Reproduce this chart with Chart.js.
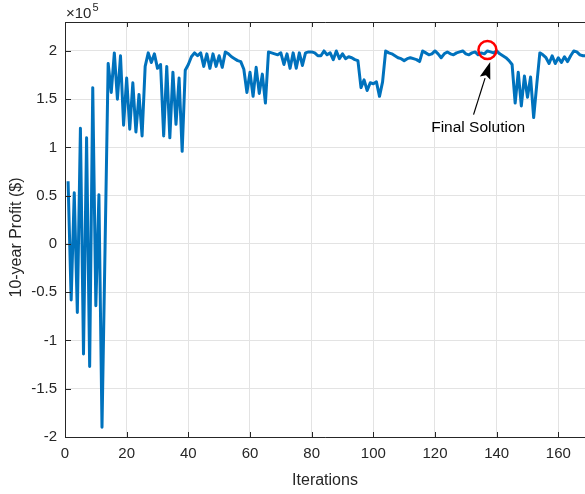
<!DOCTYPE html>
<html><head><meta charset="utf-8">
<script src="https://cdn.jsdelivr.net/npm/chart.js@4/dist/chart.umd.min.js"></script>
<style>html,body{margin:0;padding:0;background:#fff;overflow:hidden}canvas{display:block}</style>
</head><body>
<canvas id="c" width="585" height="494"></canvas>
<script>
// 10-year profit ($) per iteration (iteration = index + 1)
const profit = [
  65000,-58000,53000,-71000,120000,-114000,110000,-127000,162000,-64000,
  51000,-190000,-2000,187000,157000,198000,150000,195000,123000,172000,
  119000,167000,116000,155000,112000,184000,198000,188000,197000,182000,
  186000,112000,184000,110000,178000,124000,172000,96000,180000,186000,
  194000,198000,195000,198000,184000,197000,182000,197000,184000,195000,
  183000,199000,197000,194000,192000,190000,189000,181000,157000,178000,
  153000,183000,156000,176000,146000,199000,198000,197000,196000,198000,
  186000,197000,182000,198000,182000,198000,185000,198000,199000,199000,
  198000,195000,195000,200000,196000,198000,191000,200000,192000,197000,
  192000,194000,193000,191000,190000,162000,170000,159000,167000,166000,
  168000,153000,168000,200000,198000,197000,195000,193000,192000,190000,
  192000,193000,192000,191000,189000,200000,198000,196000,197000,200000,
  197000,193000,197000,199000,197000,196000,198000,199000,200000,197000,
  196000,198000,199000,196000,198000,197000,200000,199000,198000,200000,
  197000,195000,193000,190000,186000,146000,178000,143000,174000,152000,
  173000,131000,165000,198000,196000,193000,187000,195000,187000,193000,
  188000,194000,189000,195000,200000,199000,196000,195000,195000
];
const iterations = profit.map((_, i) => i + 1);
const xTicks = [0, 20, 40, 60, 80, 100, 120, 140, 160];
const yTicks = [-200000, -150000, -100000, -50000, 0, 50000, 100000, 150000, 200000];
const xTitle = 'Iterations';
const yTitle = '10-year Profit ($)';
// annotation anchor points in data coordinates
const solutionPoint = { x: 137, y: 201000 };
const arrowTip = { x: 137.9, y: 188600 };
const arrowTail = { x: 132.5, y: 134000 };
const labelPoint = { x: 134, y: 120700 };
const labelText = 'Final Solution';

const FONT = '"Liberation Sans", Arial, Helvetica, sans-serif';
const TXT = '#262626';

const matlabAxes = {
  id: 'matlabAxes',
  afterDatasetsDraw(chart) {
    const { ctx, chartArea: a, scales: { x, y } } = chart;
    ctx.save();
    ctx.strokeStyle = TXT;
    ctx.lineWidth = 1;
    ctx.beginPath();
    ctx.moveTo(a.left + 0.5, a.top + 0.5); ctx.lineTo(a.left + 0.5, a.bottom + 0.5);
    ctx.lineTo(a.right + 1, a.bottom + 0.5);
    ctx.moveTo(a.left + 0.5, a.top + 0.5); ctx.lineTo(a.right + 1, a.top + 0.5);
    xTicks.forEach(v => {
      const px = Math.round(x.getPixelForValue(v)) + 0.5;
      ctx.moveTo(px, a.bottom); ctx.lineTo(px, a.bottom - 5);
      ctx.moveTo(px, a.top); ctx.lineTo(px, a.top + 5);
    });
    yTicks.forEach(v => {
      const py = Math.round(y.getPixelForValue(v)) + 0.5;
      ctx.moveTo(a.left, py); ctx.lineTo(a.left + 6, py);
    });
    ctx.stroke();

    // exponent label
    ctx.fillStyle = TXT;
    ctx.textBaseline = 'alphabetic';
    ctx.textAlign = 'left';
    ctx.font = '15px ' + FONT;
    ctx.fillText('\u00d710', a.left + 1, a.top - 4);
    const w = ctx.measureText('\u00d710').width;
    ctx.font = '11px ' + FONT;
    ctx.fillText('5', a.left + 1 + w + 1, a.top - 11);

    // y axis title
    ctx.save();
    ctx.font = '16px ' + FONT;
    ctx.fillStyle = TXT;
    ctx.textAlign = 'center';
    ctx.textBaseline = 'middle';
    ctx.translate(17, (a.top + a.bottom) / 2 + 8);
    ctx.rotate(-Math.PI / 2);
    ctx.fillText(yTitle, 0, 0);
    ctx.restore();

    // annotation: circle
    const cx = x.getPixelForValue(solutionPoint.x), cy = y.getPixelForValue(solutionPoint.y);
    ctx.strokeStyle = '#ff0000';
    ctx.lineWidth = 2.5;
    ctx.beginPath();
    ctx.arc(cx, cy, 9, 0, Math.PI * 2);
    ctx.stroke();

    // arrow
    const tx = x.getPixelForValue(arrowTip.x), ty = y.getPixelForValue(arrowTip.y);
    const sx = x.getPixelForValue(arrowTail.x), sy = y.getPixelForValue(arrowTail.y);
    const ang = Math.atan2(ty - sy, tx - sx);
    const hl = 17, hw = 5.5;
    const bx = tx - hl * Math.cos(ang), by = ty - hl * Math.sin(ang);
    ctx.strokeStyle = '#000';
    ctx.fillStyle = '#000';
    ctx.lineWidth = 1.2;
    ctx.beginPath();
    ctx.moveTo(sx, sy); ctx.lineTo(bx, by);
    ctx.stroke();
    ctx.beginPath();
    ctx.moveTo(tx, ty);
    ctx.lineTo(bx + hw * Math.sin(ang), by - hw * Math.cos(ang));
    ctx.lineTo(bx + 3 * Math.cos(ang), by + 3 * Math.sin(ang));
    ctx.lineTo(bx - hw * Math.sin(ang), by + hw * Math.cos(ang));
    ctx.closePath();
    ctx.fill();

    // annotation text
    ctx.font = '15.5px ' + FONT;
    ctx.textAlign = 'center';
    ctx.textBaseline = 'middle';
    ctx.fillStyle = '#000';
    ctx.fillText(labelText, x.getPixelForValue(labelPoint.x), y.getPixelForValue(labelPoint.y));
    ctx.restore();
  }
};

const bgPlugin = {
  id: 'bg',
  beforeDraw(chart) {
    const ctx = chart.ctx;
    ctx.save(); ctx.fillStyle = '#fff'; ctx.fillRect(0, 0, chart.width, chart.height); ctx.restore();
  }
};

new Chart(document.getElementById('c'), {
  type: 'line',
  data: {
    datasets: [{
      data: iterations.map((it, i) => ({ x: it, y: profit[i] })),
      borderColor: '#0072BD',
      borderWidth: 3,
      borderJoinStyle: 'round',
      pointRadius: 0,
      tension: 0,
      fill: false
    }]
  },
  options: {
    responsive: false,
    animation: false,
    devicePixelRatio: 1,
    layout: { padding: { top: 22, left: 0, right: 0, bottom: 0 } },
    plugins: { legend: { display: false }, tooltip: { enabled: false } },
    scales: {
      x: {
        type: 'linear', min: 0, max: 168.65,
        afterFit: s => { s.height = 57; },
        afterBuildTicks: s => { s.ticks = xTicks.map(v => ({ value: v })); },
        ticks: { includeBounds: false, padding: 8, color: TXT, font: { family: FONT, size: 15 }, maxRotation: 0, autoSkip: false },
        grid: { color: '#e3e3e3', lineWidth: 1, drawTicks: false },
        border: { display: false },
        title: { display: true, text: xTitle, color: TXT, font: { family: FONT, size: 16 }, padding: { top: 0, bottom: 4 } }
      },
      y: {
        type: 'linear', min: -200000, max: 230000,
        afterFit: s => { s.width = 65; },
        afterBuildTicks: s => { s.ticks = yTicks.map(v => ({ value: v })); },
        ticks: { includeBounds: false, padding: 8, color: TXT, font: { family: FONT, size: 15 },
          callback: v => String(Math.round(v / 10000) / 10) },
        grid: { color: '#e3e3e3', lineWidth: 1, drawTicks: false },
        border: { display: false },
        title: { display: false }
      }
    }
  },
  plugins: [bgPlugin, matlabAxes]
});
</script>
</body></html>
